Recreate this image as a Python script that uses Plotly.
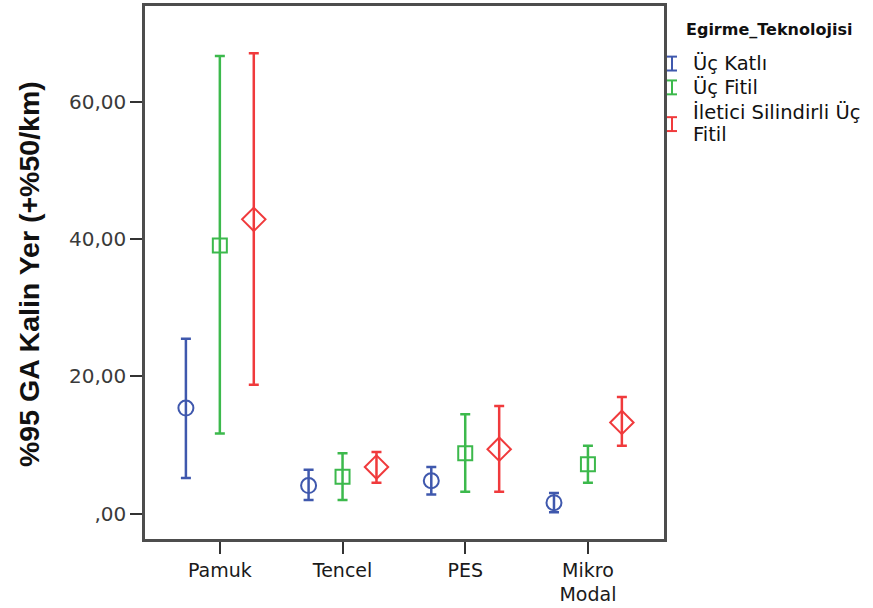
import plotly.graph_objects as go

# Fibre types on the x axis
categories = ["Pamuk", "Tencel", "PES", "Mikro<br>Modal"]

# Spinning technologies (series)
series_names = ["Üç Katlı", "Üç Fitil", "İletici Silindirli Üç Fitil"]
series_legend_lines = [["Üç Katlı"], ["Üç Fitil"], ["İletici Silindirli Üç", "Fitil"]]

# Means and 95% confidence limits of thick places (+50%/km)
uc_katli_mean = [15.4, 4.1, 4.8, 1.6]
uc_katli_low = [5.2, 2.0, 2.8, 0.2]
uc_katli_high = [25.5, 6.4, 6.8, 3.0]

uc_fitil_mean = [39.1, 5.4, 8.8, 7.2]
uc_fitil_low = [11.7, 2.0, 3.2, 4.5]
uc_fitil_high = [66.7, 8.8, 14.5, 9.9]

iletici_mean = [42.9, 6.8, 9.4, 13.3]
iletici_low = [18.8, 4.5, 3.2, 9.9]
iletici_high = [67.1, 9.0, 15.7, 17.0]

y_tick_vals = [0, 20, 40, 60]
y_tick_text = [",00", "20,00", "40,00", "60,00"]

colors = ["#3f58ad", "#3cb94c", "#f03a3c"]
symbols = ["circle-open", "square-open", "diamond-open"]
marker_sizes = [15, 14, 18]

series = [
    (uc_katli_mean, uc_katli_low, uc_katli_high),
    (uc_fitil_mean, uc_fitil_low, uc_fitil_high),
    (iletici_mean, iletici_low, iletici_high),
]

fig = go.Figure()
for name, (m, lo, hi), col, sym, ms in zip(series_names, series, colors, symbols, marker_sizes):
    fig.add_trace(go.Scatter(
        x=categories, y=m, name=name, mode="markers",
        offsetgroup=name, showlegend=False,
        marker=dict(symbol=sym, size=ms, color=col, line=dict(width=2, color=col)),
        error_y=dict(type="data", symmetric=False,
                     array=[h - v for h, v in zip(hi, m)],
                     arrayminus=[v - l for v, l in zip(m, lo)],
                     color=col, thickness=2.5, width=5),
    ))

# plot area geometry (pixels)
W, H = 873, 608
L, R, T, B = 145, 664, 3, 540
pw, ph = R - L, B - T


def px(x):
    return (x - L) / pw


def py(y):
    return 1 - (y - T) / ph


axis_line = "#4d4d4d"
font_main = "DejaVu Sans"

fig.update_layout(
    width=W, height=H,
    margin=dict(l=L, r=W - R, t=T, b=H - B),
    paper_bgcolor="white", plot_bgcolor="white",
    scattermode="group", scattergap=0.17,
    xaxis=dict(
        type="category", range=[-0.61, 3.62],
        showgrid=False, zeroline=False,
        showline=True, mirror=True, linecolor=axis_line, linewidth=2.5,
        ticks="outside", ticklen=12, tickwidth=2, tickcolor="#333333",
        tickfont=dict(family=font_main, size=19, color="#1a1a1a"),
    ),
    yaxis=dict(
        range=[-3.69, 74.0],
        tickvals=y_tick_vals, ticktext=y_tick_text,
        showgrid=False, zeroline=False,
        showline=True, mirror=True, linecolor=axis_line, linewidth=2.5,
        ticks="outside", ticklen=12, tickwidth=2, tickcolor="#333333",
        tickfont=dict(family=font_main, size=20, color="#3a3a3a"),
    ),
)

# y-axis title
fig.add_annotation(
    text="%95 GA Kalin Yer (+%50/km)", textangle=-90,
    xref="paper", yref="paper", x=px(29), y=py(273),
    xanchor="center", yanchor="middle", showarrow=False,
    font=dict(family="Liberation Sans", size=28.5, color="#111111", weight="bold"),
)

# legend: title, error-bar glyphs and labels
fig.add_annotation(
    text="Egirme_Teknolojisi", xref="paper", yref="paper",
    x=px(684), y=py(27), xanchor="left", yanchor="middle", showarrow=False,
    font=dict(family=font_main, size=16, color="#111111", weight="bold"),
)
legend_glyph_rows = [61, 85, 122]
legend_text_rows = [[61], [85], [110, 132]]
for lines, col, yc, rows in zip(series_legend_lines, colors, legend_glyph_rows, legend_text_rows):
    gx = 672
    top, bot = yc - 7, yc + 7
    fig.add_shape(type="line", xref="paper", yref="paper",
                  x0=px(gx), x1=px(gx), y0=py(top), y1=py(bot),
                  line=dict(color=col, width=2))
    for yy in (top, bot):
        fig.add_shape(type="line", xref="paper", yref="paper",
                      x0=px(gx - 5), x1=px(gx + 5), y0=py(yy), y1=py(yy),
                      line=dict(color=col, width=2))
    for line_text, yl in zip(lines, rows):
        fig.add_annotation(
            text=line_text, xref="paper", yref="paper",
            x=px(691), y=py(yl), xanchor="left", yanchor="middle", align="left",
            showarrow=False,
            font=dict(family=font_main, size=19.5, color="#111111"),
        )

fig.write_html("out.html")
